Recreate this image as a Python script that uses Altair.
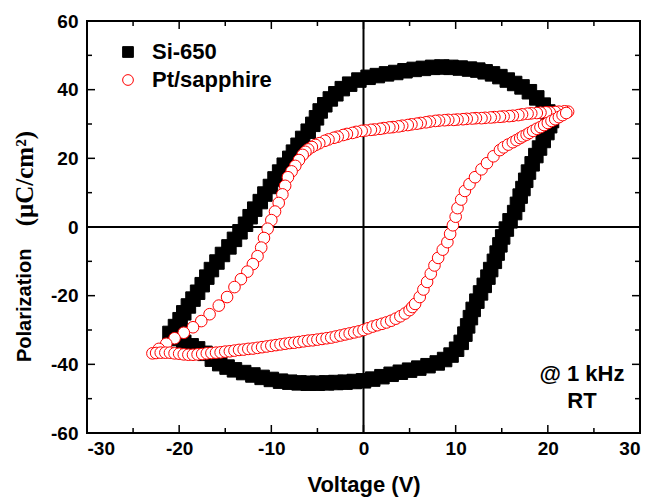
import altair as alt
import pandas as pd

# ---------------- data ----------------
series_names = ["Si-650", "Pt/sapphire"]

# Si-650 (black squares): upper branch (from +V tip going left)
si_up_v = [20.4, 20.0, 19.5, 18.8, 18.0, 17.2, 16.4, 15.6, 14.8, 14.0, 13.2, 12.4, 11.5, 10.5,
           9.5, 8.5, 7.5, 6.5, 5.5, 4.5, 3.5, 2.5, 1.5, 0.5, -0.5, -1.5, -2.3, -3.0, -3.6,
           -4.2, -4.7, -5.1, -5.5, -6.0, -6.6, -7.1, -7.6, -8.0, -8.6, -9.1, -9.6, -10.1,
           -10.7, -11.2, -11.8, -12.3, -12.8, -13.4, -14.0, -14.6, -15.3, -15.9, -16.5,
           -17.0, -17.5, -18.0, -18.5, -19.0, -19.5, -19.9, -20.4, -21.0]
si_up_p = [31.0, 33.5, 35.5, 37.6, 39.4, 40.8, 41.8, 42.8, 43.8, 44.6, 45.2, 45.7, 46.0, 46.3,
           46.5, 46.6, 46.5, 46.2, 45.9, 45.5, 45.0, 44.6, 44.1, 43.6, 42.8, 41.6, 40.3, 38.8, 37.3,
           35.6, 33.8, 31.8, 29.9, 27.9, 25.8, 23.8, 21.8, 20.0, 18.0, 16.0, 14.0, 11.8,
           9.6, 7.4, 5.2, 3.0, 0.8, -1.4, -3.6, -5.8, -8.0, -10.2, -12.4,
           -14.6, -16.8, -19.0, -21.0, -23.0, -25.0, -27.0, -29.0, -31.0]
# Si-650 lower branch (from -V tip going right)
si_lo_v = [-20.3, -19.5, -18.7, -18.0, -17.2, -16.4, -15.6, -14.8, -14.0, -13.0, -12.0, -11.0,
           -10.0, -9.0, -8.0, -7.0, -6.0, -5.0, -4.0, -3.0, -2.0, -1.0, 0.0, 1.0, 2.0, 3.0,
           4.0, 5.0, 6.0, 7.0, 8.0, 8.8, 9.5, 10.1, 10.6, 11.0, 11.3, 11.6, 11.9, 12.3, 12.7,
           13.1, 13.5, 13.8, 14.2, 14.5, 14.8, 15.1, 15.5, 15.9, 16.4, 16.7, 17.0, 17.3, 17.6,
           17.9, 18.3, 18.7, 19.1, 19.5, 19.9, 20.2]
si_lo_p = [-32.5, -33.6, -34.6, -35.5, -36.8, -38.5, -39.8, -40.8, -41.6, -42.4, -43.1, -43.8,
           -44.4, -44.9, -45.2, -45.4, -45.5, -45.5, -45.4, -45.3, -45.2, -45.0, -44.8, -44.3, -43.6, -42.9,
           -42.3, -41.7, -41.1, -40.4, -39.6, -38.6, -37.3, -35.6, -33.6, -31.2, -28.8, -26.4, -24.0, -21.6, -19.2,
           -17.0, -14.6, -12.4, -10.0, -7.6, -5.2, -2.9, -0.6, 1.8, 4.2, 6.6, 9.0, 11.2, 13.6,
           16.0, 18.4, 20.8, 23.0, 25.2, 27.5, 29.5]

# Pt/sapphire (red open circles): upper branch (from +V tip going left)
pt_up_v = [22.2, 21.8, 21.2, 20.8, 20.2, 19.8, 19.2, 18.8, 18.2, 17.8, 17.2, 16.8, 16.2, 15.8,
           15.2, 14.8, 14.2, 13.8, 13.2, 12.8, 12.2, 11.8, 11.2, 10.8, 10.2, 9.8, 9.2, 8.8,
           8.2, 7.8, 7.2, 6.8, 6.2, 5.8, 5.2, 4.8, 4.2, 3.8, 3.2, 2.8, 2.2, 1.8, 1.2, 0.8,
           0.2, -0.2, -0.8, -1.2, -1.8, -2.2, -2.8, -3.2, -3.8, -4.2, -4.8, -5.2, -5.6, -6.0,
           -6.3, -6.6, -7.0, -7.4, -7.8, -8.2, -8.5, -8.8, -9.2, -9.6, -10.0, -10.4, -10.8,
           -11.1, -11.5, -12.0, -12.6, -13.3, -14.0, -14.8, -15.7, -16.7, -17.6, -18.5, -19.5,
           -20.5, -21.4, -22.2, -22.9]
pt_up_p = [33.6, 33.7, 33.6, 33.5, 33.4, 33.4, 33.3, 33.2, 33.1, 33.0, 32.8, 32.6, 32.4, 32.3,
           32.2, 32.1, 32.0, 31.9, 31.8, 31.7, 31.7, 31.6, 31.5, 31.4, 31.3, 31.2, 31.2, 31.1,
           31.0, 30.9, 30.7, 30.5, 30.3, 30.1, 29.9, 29.7, 29.5, 29.3, 29.1, 29.0, 28.8, 28.6, 28.4, 28.3,
           28.1, 28.0, 27.7, 27.4, 27.1, 26.8, 26.3, 26.0, 25.5, 25.1, 24.4, 23.9, 23.3, 22.6,
           21.9, 21.0, 19.5, 17.8, 16.2, 14.5, 12.0, 9.5, 7.0, 4.5, 2.0, -0.5, -3.2,
           -6.0, -8.5, -10.8, -13.0, -15.2, -17.5, -20.4, -22.9, -25.4, -27.4, -29.2, -30.8,
           -32.4, -34.0, -35.5, -36.8]
# Pt/sapphire lower branch (from -V tip going right)
pt_lo_v = [-22.5, -22.0, -21.5, -21.0, -20.5, -20.0, -19.5, -19.0, -18.5, -18.0, -17.5, -17.0,
           -16.5, -16.0, -15.5, -15.0, -14.5, -14.0, -13.5, -13.0, -12.5, -12.0, -11.5, -11.0,
           -10.5, -10.0, -9.5, -9.0, -8.5, -8.0, -7.5, -7.0, -6.5, -6.0, -5.5, -5.0, -4.5, -4.0,
           -3.5, -3.0, -2.5, -2.0, -1.5, -1.0, -0.5, 0.0, 0.5, 1.0, 1.5, 2.0, 2.5, 3.0, 3.5,
           4.0, 4.5, 5.0, 5.3, 5.6, 6.1, 6.5, 6.9, 7.3, 7.7, 8.1, 8.6, 9.1, 9.4, 9.7, 10.0,
           10.2, 10.6, 11.0, 11.5, 12.1, 12.8, 13.4, 14.1, 14.8, 15.2, 15.7, 16.2, 16.6, 17.0,
           17.3, 17.7, 18.0, 18.4, 18.8, 19.2, 19.6, 20.0, 20.4, 20.8, 21.2, 21.6, 22.0]
pt_lo_p = [-36.7, -36.6, -36.6, -36.6, -36.8, -36.9, -37.1, -37.2, -37.2, -37.1, -37.0, -36.8,
           -36.7, -36.6, -36.5, -36.3, -36.2, -36.0, -35.8, -35.7, -35.5, -35.4, -35.2, -35.0,
           -34.8, -34.6, -34.4, -34.2, -34.0, -33.8, -33.7, -33.5, -33.3, -33.1, -33.0, -32.8, -32.6, -32.4,
           -32.2, -31.9, -31.6, -31.3, -31.0, -30.7, -30.4, -30.0, -29.5, -29.0, -28.6, -28.2, -27.8, -27.3, -26.7,
           -26.0, -25.2, -24.2, -23.3, -22.4, -20.4, -18.2, -16.0, -13.6, -11.2, -9.0, -6.6, -4.4, -2.0, 0.5, 3.0,
           5.5, 8.0, 10.5, 12.5, 14.5, 16.8, 18.6, 20.6, 22.4, 23.2, 24.0, 24.7, 25.3, 25.9,
           26.4, 26.9, 27.4, 28.0, 28.6, 29.1, 29.7, 30.3, 30.9, 31.4, 32.0, 32.6, 33.2]

# axis ticks
x_major = [-30, -20, -10, 0, 10, 20, 30]
x_minor = [-25, -15, -5, 5, 15, 25]
y_major = [-60, -40, -20, 0, 20, 40, 60]
y_minor = [-50, -30, -10, 10, 30, 50]

# annotation
note_text = ["@ 1 kHz", "RT"]
note_x = [23.7, 23.7]
note_y = [-42.8, -50.8]

# ---------------- build tables ----------------
si_df = pd.DataFrame({"V": si_up_v + si_lo_v, "P": si_up_p + si_lo_p, "series": series_names[0]})
pt_df = pd.DataFrame({"V": pt_up_v + pt_lo_v, "P": pt_up_p + pt_lo_p, "series": series_names[1]})

W, H = 553, 412
FONT = "Liberation Sans"

xscale = alt.Scale(domain=[-30, 30], nice=False, zero=False)
yscale = alt.Scale(domain=[-60, 60], nice=False, zero=False)
xaxis = alt.Axis(values=x_major, ticks=False, domain=False, grid=False,
                 labelExpr="datum.value + ''", labelFont=FONT, labelFontWeight="bold",
                 labelFontSize=19, labelColor="black", labelPadding=6,
                 title="Voltage (V)", titleFont=FONT, titleFontWeight="bold",
                 titleFontSize=22, titleColor="black", titlePadding=16)
yaxis = alt.Axis(values=y_major, ticks=False, domain=False, grid=False,
                 labelExpr="datum.value + ''", labelFont=FONT, labelFontWeight="bold",
                 labelFontSize=19, labelColor="black", labelPadding=9, title=None)

X = lambda f: alt.X(f, type="quantitative", scale=xscale, axis=xaxis)
Y = lambda f: alt.Y(f, type="quantitative", scale=yscale, axis=yaxis)

leg = alt.Legend(title=None, orient="none", legendX=30, legendY=20, padding=0,
                 labelFont=FONT, labelFontWeight="bold", labelFontSize=22, labelColor="black",
                 symbolSize=115, symbolStrokeWidth=1, rowPadding=6, labelOffset=13)

shape_enc = alt.Shape("series:N", scale=alt.Scale(domain=series_names, range=["square", "circle"]), legend=leg)
fill_enc = alt.Fill("series:N", scale=alt.Scale(domain=series_names, range=["black", "white"]), legend=leg)
stroke_enc = alt.Stroke("series:N", scale=alt.Scale(domain=series_names, range=["black", "red"]), legend=leg)

# crosshair at zero
zero_v = alt.Chart(pd.DataFrame({"v": [0]})).mark_rule(color="black", strokeWidth=2).encode(x=X("v"))
zero_h = alt.Chart(pd.DataFrame({"p": [0]})).mark_rule(color="black", strokeWidth=2).encode(y=Y("p"))

def xticks(vals, length):
    d = pd.DataFrame({"v": vals})
    b = alt.Chart(d).mark_rule(color="black", strokeWidth=1.5).encode(
        x=X("v"), y=alt.value(H), y2=alt.value(H - length))
    t = alt.Chart(d).mark_rule(color="black", strokeWidth=1.5).encode(
        x=X("v"), y=alt.value(0), y2=alt.value(length))
    return b + t

def yticks(vals, length):
    d = pd.DataFrame({"p": vals})
    l = alt.Chart(d).mark_rule(color="black", strokeWidth=1.5).encode(
        y=Y("p"), x=alt.value(0), x2=alt.value(length))
    r = alt.Chart(d).mark_rule(color="black", strokeWidth=1.5).encode(
        y=Y("p"), x=alt.value(W), x2=alt.value(W - length))
    return l + r

si_pts = alt.Chart(si_df).mark_point(filled=True, opacity=1, size=210, strokeWidth=1).encode(
    x=X("V"), y=Y("P"), shape=shape_enc, fill=fill_enc, stroke=stroke_enc)
pt_pts = alt.Chart(pt_df).mark_point(filled=True, opacity=1, size=135, strokeWidth=1).encode(
    x=X("V"), y=Y("P"), shape=shape_enc, fill=fill_enc, stroke=stroke_enc)

notes = alt.Chart(pd.DataFrame({"t": note_text, "x": note_x, "y": note_y})).mark_text(
    font=FONT, fontWeight="bold", fontSize=22, color="black", align="center", baseline="middle"
).encode(x=X("x"), y=Y("y"), text="t:N")

ytitle1 = alt.Chart(pd.DataFrame({"t": ["Polarization"]})).mark_text(
    font=FONT, fontWeight="bold", fontSize=20, color="black", angle=270,
    align="left", baseline="middle"
).encode(x=alt.value(-62), y=alt.value(341), text="t:N")
ytitle2 = alt.Chart(pd.DataFrame({"t": ["(μC/cm²)"]})).mark_text(
    font="Liberation Serif", fontWeight="bold", fontSize=25, color="black", angle=270,
    align="right", baseline="middle"
).encode(x=alt.value(-62), y=alt.value(110), text="t:N")

chart = alt.layer(
    zero_v, zero_h,
    xticks(x_major, 8), xticks(x_minor, 5), yticks(y_major, 8), yticks(y_minor, 5),
    si_pts, pt_pts, notes, ytitle1, ytitle2
).properties(
    width=W, height=H,
    autosize=alt.AutoSizeParams(type="none"),
    padding={"left": 79, "top": 13, "right": 6, "bottom": 65},
).configure_view(stroke="black", strokeWidth=2)

chart.save("out.html", embed_options={"renderer": "svg", "actions": False})
